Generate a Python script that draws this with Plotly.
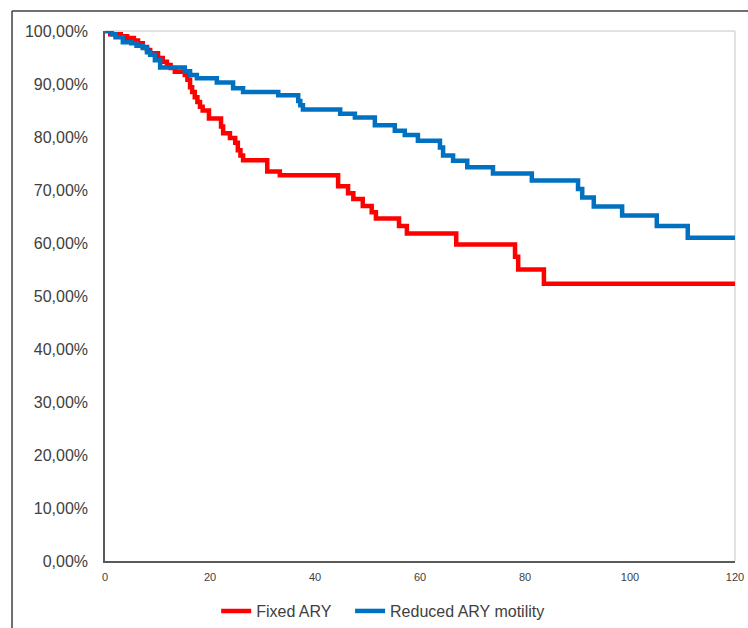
import plotly.graph_objects as go

# Kaplan-Meier style step data (months, survival %)
fixed_time = [0, 1, 3, 4.2, 5.5, 6.3, 7.2, 8, 8.6, 10.1, 11, 11.8, 12.5, 13.3, 15.2,
              15.7, 16.2, 16.6, 17.1, 17.6, 18.1, 18.6, 19.8, 22.1, 22.5, 23.8, 24.8,
              25.3, 25.8, 26.3, 30.9, 33.3, 44.4, 46.3, 47.3, 49.1, 50.8, 51.6, 56.0,
              57.5, 66.9, 78.1, 78.7, 83.6, 120]
fixed_surv = [100, 99.4, 99.0, 98.7, 98.2, 97.7, 97.0, 96.4, 95.8, 94.9, 94.2, 93.6,
              93.0, 92.3, 91.7, 90.8, 89.4, 88.5, 87.5, 86.6, 85.7, 85.0, 83.5, 82.0,
              80.7, 79.8, 78.9, 77.5, 76.5, 75.6, 73.5, 72.8, 70.7, 69.4, 68.3, 67.0,
              65.8, 64.6, 63.2, 61.8, 59.7, 57.4, 55.0, 52.3, 52.3]

reduced_time = [0, 1.3, 2, 3.4, 5, 6, 7.2, 8, 8.6, 9.5, 10.5, 15.2, 16.2, 17.5, 21.3,
                24.4, 26.3, 33, 36.8, 37.2, 37.7, 44.8, 47.6, 51.4, 55.2, 57.1, 59.6,
                63.8, 64.4, 66.3, 69, 73.9, 81.3, 90.1, 90.9, 93.1, 98.5, 105.1, 111.0, 120]
reduced_surv = [100, 99.4, 98.8, 97.9, 97.7, 97.2, 96.8, 96.0, 95.5, 94.5, 93.1, 92.4,
                91.7, 91.1, 90.3, 89.2, 88.5, 87.9, 86.8, 86.0, 85.2, 84.4, 83.7, 82.2,
                81.2, 80.4, 79.3, 78.0, 76.5, 75.5, 74.3, 73.1, 71.8, 70.2, 68.6, 66.9,
                65.2, 63.2, 61.0, 61.0]

series_names = ["Fixed ARY", "Reduced ARY motility"]
series_colors = ["#FF0000", "#0070C0"]

y_tickvals = [0, 10, 20, 30, 40, 50, 60, 70, 80, 90, 100]
y_ticktext = ["0,00%", "10,00%", "20,00%", "30,00%", "40,00%", "50,00%",
              "60,00%", "70,00%", "80,00%", "90,00%", "100,00%"]
x_tickvals = [0, 20, 40, 60, 80, 100, 120]

fig = go.Figure()
fig.add_trace(go.Scatter(x=fixed_time, y=fixed_surv, mode="lines", name=series_names[0],
                         line=dict(color=series_colors[0], width=4.5, shape="hv"),
                         legend="legend"))
fig.add_trace(go.Scatter(x=reduced_time, y=reduced_surv, mode="lines", name=series_names[1],
                         line=dict(color=series_colors[1], width=4.5, shape="hv"),
                         legend="legend2"))

leg_common = dict(orientation="h", xref="container", yref="container",
                  xanchor="left", y=0.027, yanchor="middle",
                  font=dict(size=16, color="#404040"), itemwidth=30,
                  bgcolor="rgba(0,0,0,0)")

fig.update_layout(
    width=748, height=628,
    margin=dict(l=105, r=13, t=31, b=67, autoexpand=False),
    paper_bgcolor="white", plot_bgcolor="white",
    font=dict(family="Liberation Sans, Arial, sans-serif", size=16, color="#404040"),
    showlegend=True,
    legend=dict(x=0.289, **leg_common),
    legend2=dict(x=0.468, **leg_common),
    xaxis=dict(range=[0, 120], tickvals=x_tickvals, showgrid=False, zeroline=False,
               showline=True, linecolor="#595959", linewidth=1.5, automargin=False,
               tickfont=dict(size=11), ticks="", ticklabelstandoff=5),
    yaxis=dict(range=[0, 100], tickvals=y_tickvals, ticktext=y_ticktext,
               showgrid=False, zeroline=False, showline=True, linecolor="#595959",
               linewidth=1.5, ticks="", ticklabelstandoff=12, automargin=False,
               tickfont=dict(size=16)),
)

# plot-area border (top and right light gray)
fig.add_shape(type="line", xref="paper", yref="paper", x0=0, x1=1, y0=1, y1=1,
              line=dict(color="#D9D9D9", width=1.5), layer="below")
fig.add_shape(type="line", xref="paper", yref="paper", x0=1, x1=1, y0=0, y1=1,
              line=dict(color="#D9D9D9", width=1.5), layer="below")
# outer chart frame (left and top)
fig.add_shape(type="line", xref="paper", yref="paper", x0=-0.1476, x1=-0.1476,
              y0=1.0377, y1=-0.2, line=dict(color="#404040", width=1.5))
fig.add_shape(type="line", xref="paper", yref="paper", x0=-0.1476, x1=1.2,
              y0=1.0377, y1=1.0377, line=dict(color="#404040", width=1.5))

fig.write_html("out.html")
